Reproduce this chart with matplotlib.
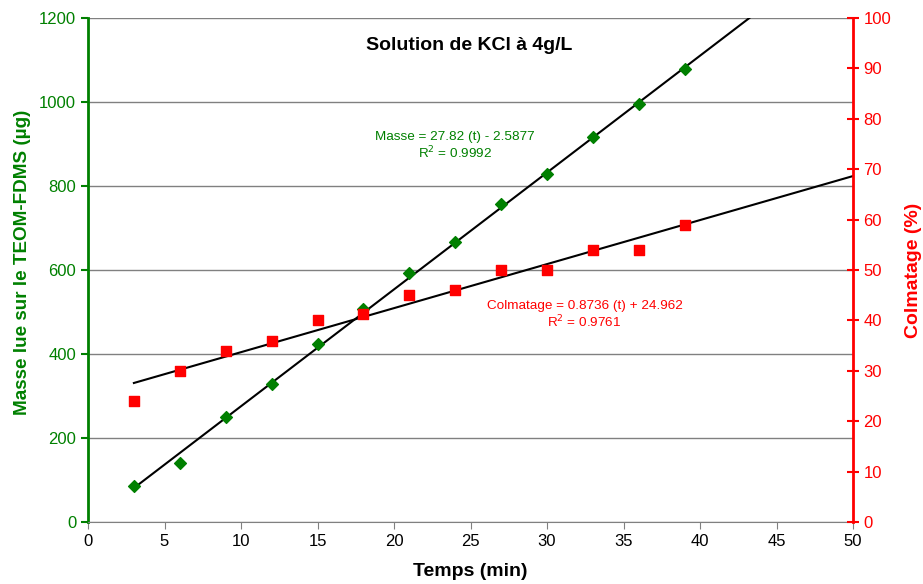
import numpy as np
import matplotlib
matplotlib.use('Agg')
import matplotlib.pyplot as plt

plt.rcParams['font.family'] = ['Liberation Sans', 'DejaVu Sans']

temps = [3, 6, 9, 12, 15, 18, 21, 24, 27, 30, 33, 36, 39]
masse = [86, 141, 251, 329, 425, 508, 594, 666, 756, 828, 916, 995, 1078]
colmatage = [24, 30, 34, 36, 40, 41.3, 45, 46, 50, 50, 54, 54, 59]

# coefficients des courbes de tendance (affichées sur le graphique)
masse_pente, masse_orig = 27.82, -2.5877
colm_pente, colm_orig = 0.8736, 24.962

vert = '#008000'
rouge = '#ff0000'

fig = plt.figure(figsize=(9.23, 5.84), dpi=100)
ax = fig.add_axes([88 / 923, 1 - 522 / 584, (853 - 88) / 923, (522 - 18) / 584])
ax2 = ax.twinx()

# trendlines
t = np.linspace(3, 50, 200)
ax.plot(t, masse_pente * t + masse_orig, color='black', lw=1.5, zorder=2)
ax2.plot(t, colm_pente * t + colm_orig, color='black', lw=1.5, zorder=2)

ax.scatter(temps, masse, marker='D', s=36, color=vert, zorder=3)
ax2.scatter(temps, colmatage, marker='s', s=55, color=rouge, zorder=3)

ax.set_xlim(0, 50)
ax.set_ylim(0, 1200)
ax2.set_ylim(0, 100)
ax.set_xticks(range(0, 51, 5))
ax.set_yticks(range(0, 1201, 200))
ax2.set_yticks(range(0, 101, 10))

ax.grid(axis='y', color='#808080', lw=1)
ax.set_axisbelow(True)

ax.spines['left'].set_color(vert)
ax.spines['left'].set_linewidth(2)
ax.spines['top'].set_visible(False)
ax.spines['right'].set_visible(False)
ax.spines['bottom'].set_color('#808080')
ax2.spines['right'].set_color(rouge)
ax2.spines['right'].set_linewidth(2)
ax2.spines['top'].set_visible(False)
ax2.spines['left'].set_visible(False)
ax2.spines['bottom'].set_visible(False)

ax.tick_params(axis='y', colors=vert, labelsize=12, length=5, width=1.5)
ax.tick_params(axis='x', colors='#808080', labelcolor='black', labelsize=12, length=5)
ax2.tick_params(axis='y', colors=rouge, labelsize=12, length=8, width=1.5, direction='inout')

ax.set_xlabel('Temps (min)', fontsize=14, fontweight='bold', labelpad=10)
ax.set_ylabel('Masse lue sur le TEOM-FDMS (µg)', fontsize=13.6, fontweight='bold', color=vert)
ax.yaxis.set_label_coords(-0.075, 0.516)
ax2.set_ylabel('Colmatage (%)', fontsize=14, fontweight='bold', color=rouge, labelpad=10)

ax.text(0.498, 0.946, 'Solution de KCl à 4g/L', transform=ax.transAxes, ha='center', va='center',
        fontsize=14, fontweight='bold')
ax.text(0.480, 0.746, 'Masse = 27.82 (t) - 2.5877\nR$^2$ = 0.9992', transform=ax.transAxes,
        ha='center', va='center', fontsize=9.7, color=vert, linespacing=1.15)
ax.text(0.649, 0.411, 'Colmatage = 0.8736 (t) + 24.962\nR$^2$ = 0.9761', transform=ax.transAxes,
        ha='center', va='center', fontsize=9.7, color=rouge, linespacing=1.15)

fig.savefig('out.png', dpi=100)
